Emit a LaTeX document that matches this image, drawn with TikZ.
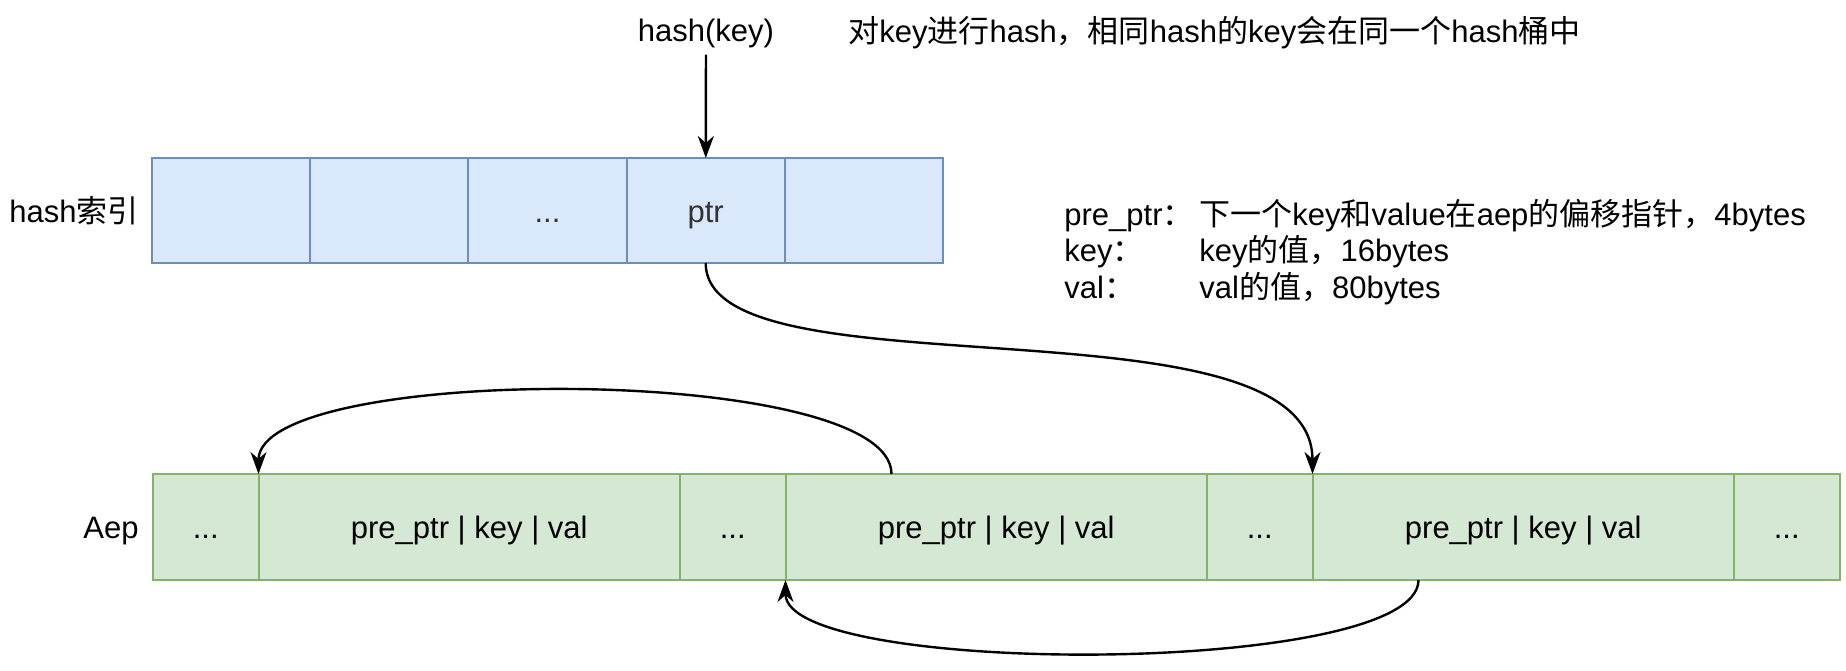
\documentclass[tikz,border=0pt]{standalone}
\usepackage{fontspec}
\setmainfont{Liberation Sans}
\newfontfamily\cjk{Noto Sans CJK SC}
\newcommand{\zh}[1]{{\cjk #1}}
\usetikzlibrary{positioning, arrows.meta}
\definecolor{bucketfill}{HTML}{DAE8FC}
\definecolor{bucketdraw}{HTML}{6C8EBF}
\definecolor{entryfill}{HTML}{D5E8D4}
\definecolor{entrydraw}{HTML}{82B366}
\tikzset{
	bucket/.style={draw=bucketdraw, fill=bucketfill, rectangle, line width=1pt, outer sep=0pt, minimum width=79.1pt, minimum height=52.5pt, text height=13.5pt, text depth=2pt, text=black!80},
	entry/.style={draw=entrydraw, fill=entryfill, rectangle, line width=1pt, outer sep=0pt, minimum width=210.75pt, minimum height=53pt, text height=13.5pt, text depth=2pt},
	gap/.style={entry, minimum width=52.75pt},
	% row names on the left
	rowname/.style={anchor=east, inner sep=0pt, text height=13.5pt, text depth=2pt},
	note/.style={anchor=west, inner sep=0pt},
}

\begin{document}
\begin{tikzpicture}[x=0.5pt, y=-0.5pt, font=\fontsize{15.5}{19}\selectfont]
	\useasboundingbox (0,0) rectangle (1846,670);

	% hash index
	\node (h1) [bucket, anchor=west] at (152,210.5) {};
	\node (h2) [bucket, right=0pt of h1] {};
	\node (h3) [bucket, right=0pt of h2] {...};
	\node (h4) [bucket, right=0pt of h3] {ptr};
	\node (h5) [bucket, right=0pt of h4] {};
	\node (hidx) [rowname, left=6.5pt of h1] {hash\zh{索引}};

	\node (hk) at (706,33) {hash(key)};
	\node (hnote) [note] at (848,33) {\zh{对}key\zh{进行}hash\zh{，相同}hash\zh{的}key\zh{会在同一个}hash\zh{桶中}};

	\node (legend) [note, font=\fontsize{15.5}{17.6}\selectfont] at (1064,254) {\begin{tabular}{@{}p{67.5pt}@{}l@{}}
		pre\_ptr\zh{：} & \zh{下一个}key\zh{和}value\zh{在}aep\zh{的偏移指针，}4bytes\\
		key\zh{：} & key\zh{的值，}16bytes\\
		val\zh{：} & val\zh{的值，}80bytes
	\end{tabular}};

	% aep entries
	\node (d1) [gap, anchor=west] at (153,527) {...};
	\node (r1) [entry, right=0pt of d1] {pre\_ptr | key | val};
	\node (d2) [gap, right=0pt of r1] {...};
	\node (r2) [entry, right=0pt of d2] {pre\_ptr | key | val};
	\node (d3) [gap, right=0pt of r2] {...};
	\node (r3) [entry, right=0pt of d3] {pre\_ptr | key | val};
	\node (d4) [gap, right=0pt of r3] {...};
	\node (aep) [rowname, left=7pt of d1] {Aep};

	\begin{scope}[line width=1.2pt, black, -{Stealth[length=11pt, width=8pt, inset=3.5pt]}]
		\draw (hk) -- (h4);
		\draw (h4.south) .. controls +(0,137) and +(0,-184) .. (r3.north west);
		\draw ([xshift=53pt]r2.north west) .. controls +(0,-111) and +(0,-111) .. (r1.north west);
		\draw ([xshift=53pt]r3.south west) .. controls +(0,97) and +(0,97) .. (r2.south west);
	\end{scope}
\end{tikzpicture}
\end{document}
